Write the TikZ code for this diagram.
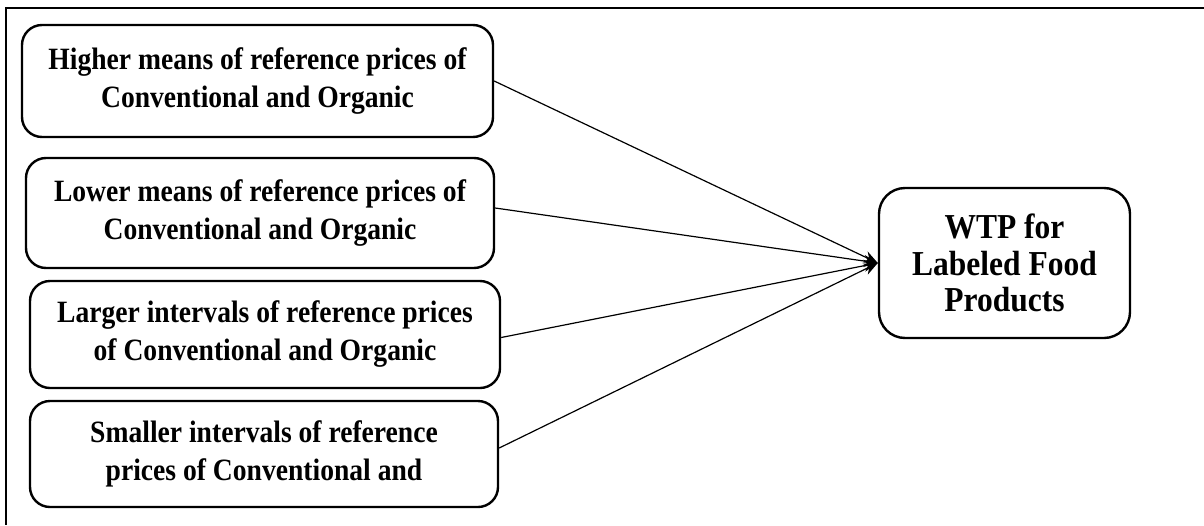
\documentclass[tikz,border=0pt]{standalone}
\usepackage{fontspec}
\setmainfont{Liberation Serif}
\newfontfamily\srcfont[FakeStretch=0.89]{Liberation Serif}
\newfontfamily\wtpfont[FakeStretch=0.9]{Liberation Serif}
\usetikzlibrary{arrows.meta}
\tikzset{
  srcbox/.style={draw, line width=2.4pt, rounded corners=20pt, inner sep=0pt, align=center,
    font=\srcfont\fontsize{31}{38}\selectfont\bfseries},
  wtpbox/.style={draw, line width=2.4pt, rounded corners=26pt, inner sep=0pt, align=center,
    font=\wtpfont\fontsize{35}{36.5}\selectfont\bfseries},
  link/.style={line width=1.2pt, -{Stealth[length=14pt,width=12pt]}},
  frame/.style={line width=2.6pt}
}
\begin{document}
\begin{tikzpicture}[x=1pt,y=-1pt]
\useasboundingbox (0,0) rectangle (1204,525);
\coordinate (ftl) at (6,8);
\coordinate (ftr) at (1204,8);
\coordinate (fbl) at (6,525);
\draw[frame] (ftr) -- (ftl) -- (fbl);

\node[srcbox, minimum width=471pt, minimum height=112pt] (b1) at (257.5,81)
  {Higher means of reference prices of\\Conventional and Organic};
\node[srcbox, minimum width=468pt, minimum height=110pt] (b2) at (260,213)
  {Lower means of reference prices of\\Conventional and Organic};
\node[srcbox, minimum width=470pt, minimum height=107pt] (b3) at (265,334.5)
  {Larger intervals of reference prices\\of Conventional and Organic};
\node[srcbox, minimum width=468pt, minimum height=106pt] (b4) at (264,454)
  {Smaller intervals of reference\\prices of Conventional and};
\node[wtpbox, minimum width=251pt, minimum height=150pt] (w) at (1004.5,263)
  {WTP for\\Labeled Food\\Products};

\draw[link] (b1.east) -- (w.west);
\draw[link] ([yshift=5pt]b2.east) -- (w.west);
\draw[link] ([yshift=-3pt]b3.east) -- (w.west);
\draw[link] ([yshift=6pt]b4.east) -- (w.west);
\end{tikzpicture}
\end{document}
